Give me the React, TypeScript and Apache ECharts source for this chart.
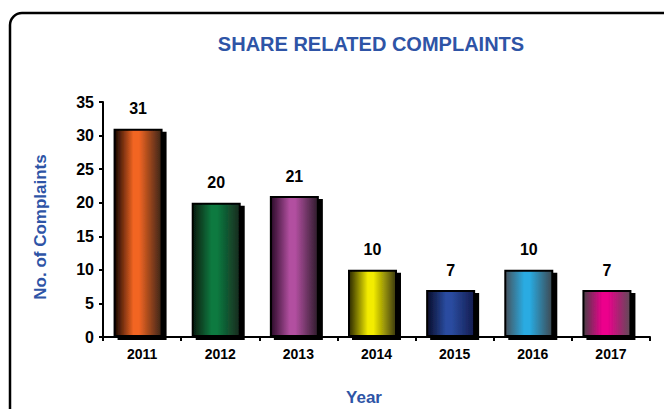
import React, { useEffect, useRef } from "react";
import * as echarts from "echarts";

const years = ["2011", "2012", "2013", "2014", "2015", "2016", "2017"];
const complaints = [31, 20, 21, 10, 7, 10, 7];
const yTicks = { min: 0, max: 35, interval: 5 };
// gradient stops per bar: [left edge, highlight, right edge]
const barEdgeLeft = ["#140600", "#061a0e", "#2a0a28", "#2a2800", "#080c2a", "#46525c", "#4a3f46"];
const barCenter = ["#F26522", "#0A7A40", "#B24FA0", "#F3EC00", "#2A4CA0", "#29ABE2", "#EC008C"];
const barEdgeRight = ["#3a2418", "#1a2a1e", "#2e1c2c", "#3a3810", "#141c50", "#3e4850", "#5e4c56"];

const TITLE_COLOR = "#2E54A6";
const FONT = "'Liberation Sans', Arial, sans-serif";

export default function App() {
  const ref = useRef<HTMLDivElement>(null);
  useEffect(() => {
    if (!ref.current) return;
    const chart = echarts.init(ref.current, null, { renderer: "svg" });
    const data = complaints.map((v, i) => ({
      value: v,
      itemStyle: {
        color: new echarts.graphic.LinearGradient(0, 0, 1, 0, [
          { offset: 0, color: barEdgeLeft[i] },
          { offset: 0.4, color: barCenter[i] },
          { offset: 0.52, color: barCenter[i] },
          { offset: 1, color: barEdgeRight[i] },
        ]),
      },
    }));
    chart.setOption({
      animation: false,
      backgroundColor: "#ffffff",
      textStyle: { fontFamily: FONT },
      grid: { left: 103, right: 14, top: 102, bottom: 72 },
      graphic: [
        {
          type: "rect",
          shape: { x: 10, y: 13, width: 720, height: 440, r: 12 },
          style: { fill: "none", stroke: "#000", lineWidth: 2.5 },
          z: -1,
        },
        {
          type: "text",
          x: 371,
          y: 44,
          style: {
            text: "SHARE RELATED COMPLAINTS",
            fill: TITLE_COLOR,
            font: `bold 20px ${FONT}`,
            textAlign: "center",
            textVerticalAlign: "middle",
          },
        },
        {
          type: "text",
          x: 40,
          y: 227,
          rotation: Math.PI / 2,
          style: {
            text: "No. of Complaints",
            fill: TITLE_COLOR,
            font: `bold 17px ${FONT}`,
            textAlign: "center",
            textVerticalAlign: "middle",
          },
        },
        {
          type: "text",
          x: 364,
          y: 397,
          style: {
            text: "Year",
            fill: TITLE_COLOR,
            font: `bold 17px ${FONT}`,
            textAlign: "center",
            textVerticalAlign: "middle",
          },
        },
      ],
      xAxis: {
        type: "category",
        data: years,
        axisLine: { lineStyle: { color: "#000", width: 2 } },
        axisTick: { show: true, length: 4, lineStyle: { color: "#000", width: 2 } },
        axisLabel: { color: "#000", fontWeight: "bold", fontSize: 14, margin: 10 },
      },
      yAxis: {
        type: "value",
        min: yTicks.min,
        max: yTicks.max,
        interval: yTicks.interval,
        splitLine: { show: false },
        axisLine: { show: true, lineStyle: { color: "#000", width: 2 } },
        axisTick: { show: true, length: 4, lineStyle: { color: "#000", width: 2 } },
        axisLabel: { color: "#000", fontWeight: "bold", fontSize: 16, margin: 9 },
      },
      series: [
        {
          type: "bar",
          data,
          barWidth: 49,
          barGap: 0,
          itemStyle: {
            borderColor: "#000",
            borderWidth: 2,
            shadowColor: "#000",
            shadowOffsetX: 4,
            shadowOffsetY: 3,
            shadowBlur: 0,
          },
          label: {
            show: true,
            position: "top",
            distance: 12,
            color: "#000",
            fontWeight: "bold",
            fontSize: 16,
          },
        },
        {
          type: "bar",
          data: complaints.map(() => "-"),
          barWidth: 8,
          silent: true,
          itemStyle: { color: "transparent", borderWidth: 0 },
        },
      ],
    });
    return () => chart.dispose();
  }, []);
  return (
    <div
      ref={ref}
      style={{ position: "fixed", left: 0, top: 0, width: 664, height: 409, background: "#fff" }}
    />
  );
}
